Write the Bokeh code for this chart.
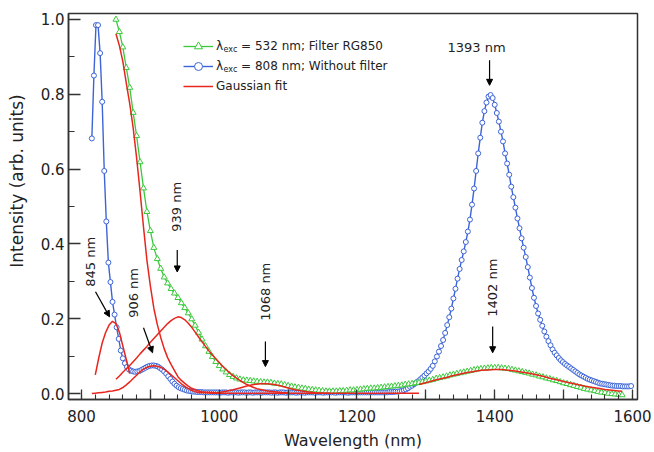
from bokeh.plotting import figure
from bokeh.models import (FixedTicker, Legend, LegendItem, Label, Arrow,
                          NormalHead, PrintfTickFormatter)
from bokeh.embed import file_html
from bokeh.resources import INLINE

# ---------------- data ----------------
# lambda_exc = 808 nm, without filter (blue circles), every 3 nm
blue_nm = list(range(815, 1599, 3))
blue_int = [
    0.682, 0.850, 0.985, 0.985, 0.910, 0.780, 0.595, 0.460, 0.350, 0.298,
    0.245, 0.211, 0.177, 0.146, 0.115, 0.094, 0.081, 0.071, 0.064, 0.061,
    0.059, 0.058, 0.059, 0.060, 0.063, 0.066, 0.069, 0.072, 0.074, 0.075,
    0.075, 0.074, 0.072, 0.068, 0.064, 0.059, 0.053, 0.046, 0.039, 0.032,
    0.026, 0.021, 0.017, 0.014, 0.012, 0.010, 0.008, 0.007, 0.006, 0.005,
    0.005, 0.004, 0.004, 0.004, 0.003, 0.003, 0.003, 0.003, 0.003, 0.003,
    0.003, 0.003, 0.002, 0.003, 0.003, 0.003, 0.002, 0.003, 0.003, 0.003,
    0.003, 0.002, 0.003, 0.003, 0.003, 0.002, 0.003, 0.003, 0.002, 0.003,
    0.003, 0.003, 0.002, 0.003, 0.003, 0.003, 0.003, 0.002, 0.003, 0.003,
    0.002, 0.003, 0.003, 0.003, 0.002, 0.003, 0.003, 0.003, 0.003, 0.002,
    0.003, 0.003, 0.003, 0.002, 0.003, 0.003, 0.003, 0.003, 0.002, 0.003,
    0.003, 0.003, 0.002, 0.003, 0.003, 0.003, 0.003, 0.003, 0.002, 0.003,
    0.003, 0.003, 0.003, 0.003, 0.002, 0.003, 0.003, 0.003, 0.003, 0.003,
    0.003, 0.003, 0.003, 0.003, 0.003, 0.003, 0.003, 0.003, 0.003, 0.003,
    0.003, 0.003, 0.003, 0.003, 0.004, 0.004, 0.004, 0.005, 0.005, 0.006,
    0.007, 0.009, 0.011, 0.014, 0.018, 0.021, 0.025, 0.029, 0.033, 0.038,
    0.043, 0.048, 0.054, 0.059, 0.066, 0.074, 0.086, 0.099, 0.112, 0.127,
    0.143, 0.162, 0.183, 0.204, 0.227, 0.254, 0.280, 0.307, 0.333, 0.357,
    0.380, 0.405, 0.433, 0.465, 0.505, 0.548, 0.595, 0.642, 0.684, 0.724,
    0.755, 0.778, 0.794, 0.798, 0.790, 0.772, 0.750, 0.727, 0.700, 0.674,
    0.642, 0.615, 0.585, 0.553, 0.525, 0.497, 0.468, 0.442, 0.415, 0.390,
    0.365, 0.338, 0.310, 0.282, 0.256, 0.234, 0.214, 0.197, 0.181, 0.166,
    0.152, 0.140, 0.129, 0.118, 0.109, 0.102, 0.095, 0.089, 0.084, 0.079,
    0.075, 0.071, 0.067, 0.063, 0.059, 0.055, 0.051, 0.048, 0.045, 0.042,
    0.039, 0.037, 0.035, 0.033, 0.031, 0.029, 0.027, 0.026, 0.025, 0.024,
    0.023, 0.022, 0.021, 0.021, 0.020, 0.020, 0.020, 0.019, 0.019, 0.019,
    0.019, 0.020,
]

# lambda_exc = 532 nm, filter RG850 (green triangles), every 5 nm
green_nm = list(range(850, 1590, 5))
green_int = [
    1.000, 0.967, 0.926, 0.871, 0.818, 0.751, 0.689, 0.619, 0.549, 0.486,
    0.435, 0.390, 0.360, 0.334, 0.311, 0.295, 0.280, 0.268, 0.256, 0.242,
    0.229, 0.215, 0.199, 0.182, 0.163, 0.145, 0.127, 0.112, 0.098, 0.085,
    0.074, 0.065, 0.057, 0.050, 0.045, 0.041, 0.038, 0.036, 0.035, 0.034,
    0.033, 0.032, 0.031, 0.030, 0.030, 0.029, 0.027, 0.026, 0.025, 0.023,
    0.021, 0.019, 0.017, 0.016, 0.014, 0.013, 0.011, 0.010, 0.009, 0.008,
    0.007, 0.006, 0.006, 0.006, 0.006, 0.007, 0.007, 0.008, 0.009, 0.009,
    0.010, 0.011, 0.012, 0.013, 0.014, 0.014, 0.015, 0.016, 0.017, 0.018,
    0.019, 0.020, 0.021, 0.022, 0.024, 0.025, 0.026, 0.028, 0.029, 0.031,
    0.033, 0.035, 0.037, 0.040, 0.042, 0.044, 0.046, 0.049, 0.051, 0.053,
    0.055, 0.057, 0.059, 0.061, 0.063, 0.065, 0.066, 0.067, 0.068, 0.069,
    0.069, 0.069, 0.068, 0.067, 0.066, 0.064, 0.062, 0.060, 0.058, 0.056,
    0.054, 0.051, 0.049, 0.046, 0.044, 0.041, 0.039, 0.036, 0.034, 0.031,
    0.028, 0.026, 0.023, 0.021, 0.018, 0.016, 0.013, 0.011, 0.009, 0.007,
    0.005, 0.003, 0.002, 0.000, -0.001, -0.002, -0.003, -0.004,
]

# Gaussian fit components (red lines)
fitA_nm = [850, 855, 860, 865, 870, 875, 880, 885, 890, 895, 900, 905, 910,
           915, 920, 925, 930, 935, 940, 945, 950, 955, 960, 965, 970, 975,
           980, 990, 1000]
fitA_int = [0.962, 0.930, 0.888, 0.830, 0.775, 0.710, 0.630, 0.540, 0.445,
            0.356, 0.287, 0.228, 0.185, 0.150, 0.120, 0.096, 0.078, 0.061,
            0.045, 0.035, 0.027, 0.020, 0.014, 0.010, 0.007, 0.005, 0.004,
            0.003, 0.002]

fitB_nm = [820, 825, 830, 835, 840, 845, 850, 855, 860, 865, 870]
fitB_int = [0.050, 0.095, 0.135, 0.163, 0.183, 0.193, 0.187, 0.164, 0.127,
            0.091, 0.053]

fitC_nm = [850, 855, 860, 865, 870, 875, 880, 885, 890, 895,
           900, 905, 910, 915, 920, 925, 930, 935, 940, 945,
           950, 955, 960, 965, 970, 975, 980, 985, 990, 995,
           1000, 1005, 1010, 1015, 1020, 1025, 1030, 1035, 1040, 1045,
           1050, 1055, 1060, 1065, 1070, 1080, 1090, 1100]
fitC_int = [0.038, 0.047, 0.057, 0.066, 0.075, 0.085, 0.095, 0.106, 0.116, 0.126,
            0.137, 0.147, 0.157, 0.167, 0.177, 0.187, 0.195, 0.201, 0.205, 0.203,
            0.197, 0.188, 0.177, 0.164, 0.151, 0.138, 0.126, 0.114, 0.103, 0.093,
            0.083, 0.073, 0.064, 0.055, 0.048, 0.041, 0.035, 0.029, 0.024, 0.020,
            0.016, 0.013, 0.011, 0.009, 0.007, 0.005, 0.003, 0.002]

fitD_nm = [1000, 1010, 1020, 1030, 1040, 1050, 1060, 1070, 1080, 1090, 1100,
           1110, 1120, 1130, 1140, 1150, 1160]
fitD_int = [0.003, 0.006, 0.010, 0.015, 0.020, 0.024, 0.026, 0.026, 0.024,
            0.020, 0.015, 0.010, 0.007, 0.004, 0.002, 0.001, 0.001]

fitE_nm = [815, 820, 825, 830, 835, 840, 845, 850, 855, 860,
           865, 870, 875, 880, 885, 890, 895, 900, 905, 910,
           915, 920, 925, 930, 935, 940, 945, 950, 955, 960,
           965, 970, 980, 990, 1000, 1100, 1200, 1290]
fitE_int = [0.000, 0.001, 0.002, 0.003, 0.004, 0.006, 0.007, 0.009, 0.011, 0.016,
            0.023, 0.031, 0.040, 0.049, 0.058, 0.065, 0.070, 0.073, 0.074, 0.073,
            0.070, 0.065, 0.058, 0.050, 0.042, 0.034, 0.026, 0.019, 0.013, 0.008,
            0.005, 0.003, 0.002, 0.001, 0.001, 0.001, 0.001, 0.001]

fitF_nm = [1290, 1300, 1310, 1320, 1330, 1340, 1350, 1360, 1370, 1380,
           1390, 1400, 1410, 1420, 1430, 1440, 1450, 1460, 1470, 1480,
           1490, 1500, 1510, 1520, 1530, 1540, 1550, 1560, 1570, 1580, 1585]
fitF_int = [0.024, 0.029, 0.034, 0.039, 0.043, 0.048, 0.052, 0.056, 0.059, 0.062,
            0.063, 0.064, 0.064, 0.062, 0.060, 0.057, 0.054, 0.050, 0.046, 0.041,
            0.037, 0.032, 0.028, 0.024, 0.020, 0.017, 0.014, 0.011, 0.009, 0.007,
            0.006]

# peak annotations
ann_text = ["845 nm", "906 nm", "939 nm", "1068 nm", "1393 nm", "1402 nm"]
ann_x = [813, 875.5, 938, 1067, 1373.5, 1397]
ann_y = [0.352, 0.269, 0.499, 0.272, 0.925, 0.283]
ann_angle = [90, 90, 90, 90, 0, 90]
arr_x0 = [820.3, 890, 939, 1067, 1392.5, 1397]
arr_y0 = [0.272, 0.176, 0.384, 0.139, 0.891, 0.179]
arr_x1 = [840.7, 903.1, 939, 1067, 1392.5, 1397]
arr_y1 = [0.205, 0.109, 0.325, 0.072, 0.824, 0.109]

x_major = [800, 900, 1000, 1100, 1200, 1300, 1400, 1500, 1600]
x_minor = list(range(800, 1601, 20))
x_hidden = {900: "", 1100: "", 1300: "", 1500: ""}
y_major = [0.0, 0.2, 0.4, 0.6, 0.8, 1.0]
y_minor = [0.0, 0.1, 0.2, 0.3, 0.4, 0.5, 0.6, 0.7, 0.8, 0.9, 1.0]

legend_labels = ["λ\u2003\u2002= 532 nm; Filter RG850",
                 "λ\u2003\u2002= 808 nm; Without filter",
                 "Gaussian fit"]

BLUE = "#3c64d8"
GREEN = "#3ac93a"
RED = "#e8261e"
FONT = "DejaVu Sans"
INK = "#222222"

# ---------------- figure ----------------
p = figure(width=654, height=452, x_range=(781.1, 1607.3),
           y_range=(-0.016, 1.016), output_backend="svg",
           toolbar_location=None, min_border_left=68, min_border_right=17,
           min_border_top=13, min_border_bottom=52)
p.grid.visible = False
p.outline_line_color = "#333333"
p.outline_line_width = 1.5
p.background_fill_color = "white"
p.border_fill_color = "white"

for ax in (p.xaxis[0], p.yaxis[0]):
    ax.axis_line_color = "#333333"
    ax.axis_line_width = 1.5
    ax.major_tick_line_color = "#333333"
    ax.minor_tick_line_color = "#333333"
    ax.major_tick_line_width = 1.3
    ax.minor_tick_line_width = 1.1
    ax.major_tick_out = 0
    ax.minor_tick_out = 0
    ax.major_label_text_font = FONT
    ax.major_label_text_font_size = "15px"
    ax.major_label_text_color = INK
    ax.axis_label_text_font = FONT
    ax.axis_label_text_font_style = "normal"
    ax.axis_label_text_color = INK

p.xaxis.ticker = FixedTicker(ticks=x_major, minor_ticks=x_minor)
p.xaxis.major_label_overrides = x_hidden
p.xaxis.major_tick_in = 10
p.xaxis.minor_tick_in = 5
p.xaxis.major_label_standoff = 10
p.xaxis.axis_label = "Wavelength (nm)"
p.xaxis.axis_label_text_font_size = "16px"
p.xaxis.axis_label_standoff = 6

p.yaxis.ticker = FixedTicker(ticks=y_major, minor_ticks=y_minor)
p.yaxis.formatter = PrintfTickFormatter(format="%.1f")
p.yaxis.major_tick_in = 12
p.yaxis.minor_tick_in = 6
p.yaxis.major_label_standoff = 4
# leading em spaces shift the visible label upward, as in the reference
p.yaxis.axis_label = "\u2003\u2003\u2003Intensity (arb. units)"
p.yaxis.axis_label_text_font_size = "17px"
p.yaxis.axis_label_standoff = 11

# series
b_line = p.line(blue_nm, blue_int, line_color=BLUE, line_width=1.4)
b_pts = p.scatter(blue_nm, blue_int, marker="circle", size=5,
                  line_color=BLUE, line_width=1, fill_color="white")
g_line = p.line(green_nm, green_int, line_color=GREEN, line_width=1.3)
g_pts = p.scatter(green_nm, green_int, marker="triangle", size=6,
                  line_color=GREEN, line_width=1, fill_color="white")

red_lines = []
for xs, ys in ((fitE_nm, fitE_int), (fitB_nm, fitB_int), (fitC_nm, fitC_int),
               (fitD_nm, fitD_int), (fitA_nm, fitA_int), (fitF_nm, fitF_int)):
    red_lines.append(p.line(xs, ys, line_color=RED, line_width=1.5))

legend = Legend(items=[
    LegendItem(label=legend_labels[0], renderers=[g_line, g_pts]),
    LegendItem(label=legend_labels[1], renderers=[b_line, b_pts]),
    LegendItem(label=legend_labels[2], renderers=[red_lines[0]]),
], location=(115, 303), glyph_width=30, glyph_height=20, label_height=20,
    label_standoff=3, spacing=0, padding=0, margin=0,
    border_line_color=None, background_fill_alpha=0,
    label_text_font=FONT, label_text_font_size="12px",
    label_text_color=INK)
p.add_layout(legend)

for yy in (350, 330):
    p.add_layout(Label(x=155, y=yy, x_units="screen", y_units="screen",
                       text="exc", text_font=FONT, text_font_size="8px",
                       text_baseline="middle", text_color=INK))

for t, x, y, a in zip(ann_text, ann_x, ann_y, ann_angle):
    p.add_layout(Label(x=x, y=y, text=t, angle=a, angle_units="deg",
                       text_align="center", text_baseline="middle",
                       text_font=FONT, text_font_size="13px", text_color=INK))

for x0, y0, x1, y1 in zip(arr_x0, arr_y0, arr_x1, arr_y1):
    p.add_layout(Arrow(end=NormalHead(size=6, fill_color="black",
                                      line_color="black", line_width=1),
                       x_start=x0, y_start=y0, x_end=x1, y_end=y1,
                       line_color="black", line_width=1.2))

open("out.html", "w").write(file_html(p, INLINE))
